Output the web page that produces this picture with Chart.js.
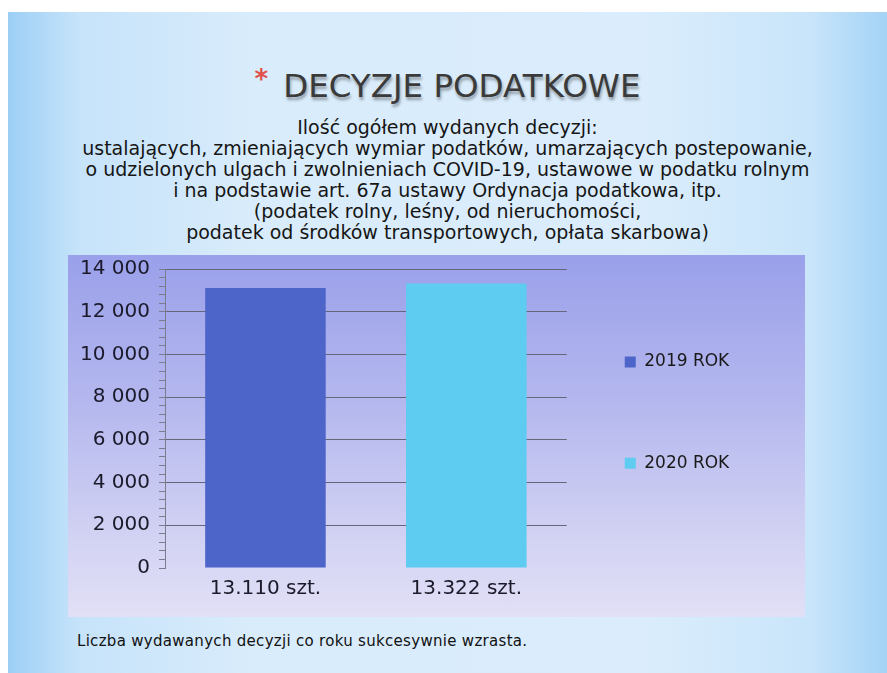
<!DOCTYPE html>
<html lang="pl">
<head>
<meta charset="utf-8">
<title>Decyzje podatkowe</title>
<script src="https://cdn.jsdelivr.net/npm/chart.js@4.4.1/dist/chart.umd.min.js"></script>
<style>
    html, body { margin: 0; padding: 0; background: #fff; }
    body { width: 887px; height: 673px; position: relative; overflow: hidden; font-family: "DejaVu Sans", sans-serif; }
    #slajd {
        position: absolute; left: 8px; top: 12px; width: 879px; height: 661px;
        background: linear-gradient(90deg, #9ccff5 0%, #c6e3fa 8%, #d9ecfb 28%, #dbedfc 72%, #c9e5fa 91%, #a4d3f6 100%);
    }
    #tytul {
        position: absolute; left: 8px; width: 879px; top: 61px; text-align: center;
        font-size: 32.5px; line-height: 36px; color: #3a3a3a; text-shadow: 1px 3px 3px rgba(0,0,0,0.35);
    }
    #tytul .gw { color: #e0504a; font-size: 26px; font-weight: bold; vertical-align: 9px; margin-right: 15px; text-shadow: none; }
    #podtytul {
        position: absolute; left: 8px; width: 879px; top: 117px; text-align: center;
        font-size: 19px; line-height: 21px; color: #161616;
    }
    #wykres {
        position: absolute; left: 68px; top: 255px;
        background: linear-gradient(180deg, #9aa0ea 0%, #b4b7ee 40%, #d0d0f3 75%, #e2e0f6 100%);
    }
    #stopka { position: absolute; left: 77px; top: 632px; font-size: 15px; line-height: 18px; letter-spacing: 0.3px; color: #111; }
</style>
</head>
<body>
<div id="slajd"></div>
<div id="tytul"><span class="gw">*</span>DECYZJE PODATKOWE</div>
<div id="podtytul">
    Ilość ogółem wydanych decyzji:<br>
    ustalających, zmieniających wymiar podatków, umarzających postepowanie,<br>
    o udzielonych ulgach i zwolnieniach COVID-19, ustawowe w podatku rolnym<br>
    i na podstawie art. 67a ustawy Ordynacja podatkowa, itp.<br>
    (podatek rolny, leśny, od nieruchomości,<br>
    podatek od środków transportowych, opłata skarbowa)
</div>
<canvas id="wykres" width="737" height="362"></canvas>
<div id="stopka">Liczba wydawanych decyzji co roku sukcesywnie wzrasta.</div>

<script>
// #region Dane

var kategorie = ['13.110 szt.', '13.322 szt.'];
var serie = ['2019 ROK', '2020 ROK'];
var wartosci = [13110, 13322];
var kolory = ['#4d65c9', '#5ecbf0'];

var zakresOsiY = [0, 14000];
var krokEtykiet = 2000;
var krokKresek = 400;

// #endregion Dane

// #region Funkcje pomocnicze

function formatujLiczbe(v) {
    return String(v).replace(/\B(?=(\d{3})+(?!\d))/g, ' ');
}

function zbudujSerie() {
    return serie.map(function (nazwa, i) {
        return {
            label: nazwa,
            data: kategorie.map(function (_, j) { return j === i ? wartosci[i] : null; }),
            backgroundColor: kolory[i],
            borderWidth: 0
        };
    });
}

// #endregion Funkcje pomocnicze

// #region Wykres

Chart.defaults.font.family = '"DejaVu Sans", sans-serif';

var _wykres = new Chart(document.getElementById('wykres'), {
    type: 'bar',
    data: { labels: kategorie, datasets: zbudujSerie() },
    options: {
        responsive: false,
        animation: false,
        skipNull: true,
        barPercentage: 1,
        categoryPercentage: 0.6,
        layout: { padding: { left: 0, top: 14, right: 72, bottom: 7 } },
        scales: {
            x: {
                grid: { display: false, drawTicks: false },
                border: { display: false },
                ticks: { color: '#1a1a2a', padding: 9, font: { size: 20 } }
            },
            y: {
                min: zakresOsiY[0],
                max: zakresOsiY[1],
                afterFit: function (s) {
                    s.width = 97;
                    s.paddingTop = 0;
                },
                border: { color: '#7c7c8e' },
                grid: {
                    color: function (c) {
                        var v = c.tick ? c.tick.value : 0;
                        return (v % krokEtykiet === 0 && v !== 0) ? '#66667a' : 'rgba(0,0,0,0)';
                    },
                    tickColor: '#7c7c8e',
                    tickLength: 6
                },
                ticks: {
                    stepSize: krokKresek,
                    autoSkip: false,
                    maxTicksLimit: 100,
                    padding: 9,
                    color: '#1a1a2a',
                    font: { size: 20 },
                    callback: function (v) { return v % krokEtykiet === 0 ? formatujLiczbe(v) : ''; }
                }
            }
        },
        plugins: {
            tooltip: { enabled: false },
            legend: {
                position: 'right',
                fullSize: false,
                align: 'start',
                title: { display: true, text: '', font: { size: 10, lineHeight: 1 }, padding: { top: 16.5, bottom: 0 } },
                labels: {
                    boxWidth: 11,
                    boxHeight: 11,
                    padding: 58,
                    color: '#1a1a1a',
                    font: { size: 17, lineHeight: 1.27 },
                    generateLabels: function (chart) {
                        var pozycje = Chart.defaults.plugins.legend.labels.generateLabels(chart);
                        pozycje.forEach(function (p) { p.lineWidth = 0; });
                        // pusta druga linia pierwszej pozycji daje odstęp jak w oryginale
                        pozycje[0].text = [pozycje[0].text, ''];
                        return pozycje;
                    }
                }
            }
        }
    }
});

// #endregion Wykres
</script>
</body>
</html>
